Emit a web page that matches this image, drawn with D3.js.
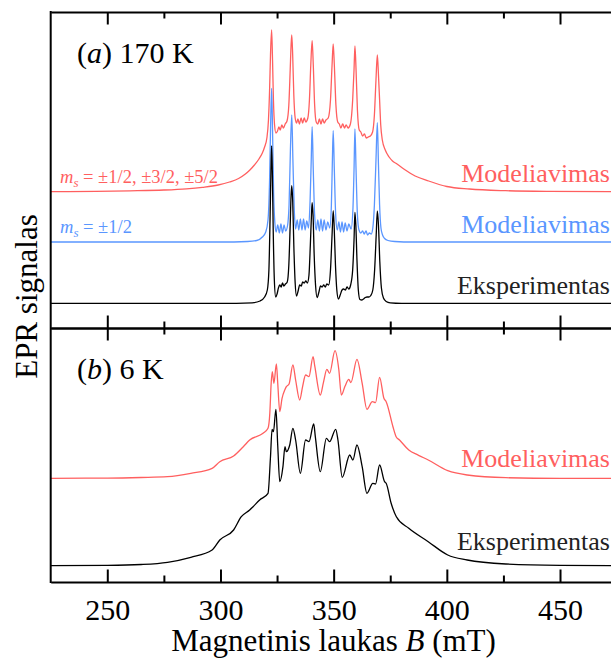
<!DOCTYPE html>
<html><head><meta charset="utf-8">
<script src="https://cdn.jsdelivr.net/npm/d3@7"></script>
<style>body{margin:0;background:#fff} svg{display:block}</style>
</head><body><svg id="c" width="611" height="664"></svg>
<script>
// ---- data: [field B (mT), signal (a.u., above own baseline)] ----
const redA = [[225,0],[245,0.4],[260,0.9],[275,1.7],[285,2.9],[292,4.4],[299,6.7],[304,9.7],[308,13.2],[311,17.7],[313,21.7],[315,26.7],[317,32.7],[318.5,38.7],[319.5,44.7],[320.5,53.7],[321.2,71.7],[321.7,101.7],[322.1,136.7],[322.6,161.7],[323.0,131.7],[323.4,91.7],[323.9,66.7],[324.5,58.7],[325.2,60.7],[325.8,64.7],[326.4,61.7],[327.1,66.7],[327.8,63.7],[328.6,67.7],[329.4,70.7],[330.2,86.7],[330.8,121.7],[331.2,146.7],[331.5,156.7],[331.9,136.7],[332.4,96.7],[333.0,73.7],[333.6,68.7],[334.2,72.7],[334.9,67.7],[335.6,73.7],[336.3,68.7],[337.0,73.7],[337.7,69.7],[338.6,73.7],[339.3,91.7],[339.9,126.7],[340.5,151],[341.0,126.7],[341.6,86.7],[342.3,69.7],[343.0,67.7],[343.7,72.7],[344.4,67.7],[345.1,72.7],[345.8,68.7],[346.6,71.7],[347.6,73.7],[348.6,91.7],[349.3,126.7],[349.8,147.7],[350.3,126.7],[351.0,86.7],[351.8,69.7],[352.5,67.7],[353.2,63.7],[354.0,67.7],[354.8,63.7],[355.5,66.7],[356.4,63.7],[357.4,67.7],[358.4,91.7],[359.0,121.7],[359.4,145.7],[359.9,121.7],[360.5,81.7],[361.3,61.7],[362.0,59.7],[362.8,55.7],[363.6,57.7],[364.4,53.7],[365.3,54.7],[366.2,55.7],[367.2,59.7],[368.0,76.7],[368.7,111.7],[369.3,136.7],[369.8,116.7],[370.3,91.7],[370.8,66.7],[371.5,51.7],[372.8,41.7],[374.5,34.7],[376,30.7],[378,27.7],[381,22.7],[386,15.7],[392,10.7],[400,5.2],[410,2.7],[426,1.0],[445,0.3],[475,0]];

const blueA = [[225,0],[300,0],[312,0.5],[316,1.5],[318.5,5],[320,10],[321,22],[321.7,62],[322.2,122],[322.6,153.7],[323.0,112],[323.5,47],[324.0,20],[324.6,10],[325.3,17],[326.0,9],[326.7,18],[327.4,9],[328.1,17],[328.8,11],[329.6,16],[330.3,37],[330.9,92],[331.5,127],[332.0,82],[332.6,32],[333.2,13],[333.9,22],[334.6,12],[335.3,23],[336.0,12],[336.7,23],[337.4,12],[338.1,21],[338.9,14],[339.6,42],[340.1,82],[340.5,115.3],[341.0,72],[341.6,27],[342.3,12],[343.0,22],[343.7,11],[344.4,23],[345.1,11],[345.8,22],[346.6,12],[347.4,20],[348.3,14],[349.0,37],[349.4,77],[349.8,111.3],[350.3,72],[350.9,27],[351.6,12],[352.3,20],[353.0,10],[353.7,20],[354.4,10],[355.1,19],[355.9,11],[356.7,18],[357.7,13],[358.5,32],[359.0,72],[359.4,113],[359.9,72],[360.5,27],[361.2,12],[362.0,9],[362.8,11],[363.5,8],[364.3,11],[365.0,7],[365.8,9],[366.6,8],[367.3,14],[368.0,37],[368.7,82],[369.3,119.3],[369.8,77],[370.3,37],[370.9,14],[371.6,7],[372.5,3.5],[374,1.5],[377,0.5],[385,0],[475,0]];

const expA = [[225,0],[300,0],[314,0.5],[317.5,2.3],[319.5,6.3],[320.7,13.3],[321.4,33.3],[321.9,83.3],[322.3,133.3],[322.6,157.3],[322.9,133.3],[323.3,73.3],[323.8,23.3],[324.4,6.3],[325.0,9.3],[325.6,15.3],[326.2,18.3],[326.8,16.3],[327.4,20.3],[328.0,17.3],[328.7,19.3],[329.5,21.3],[330.2,38.3],[330.8,78.3],[331.2,108.3],[331.5,117.6],[331.9,103.3],[332.4,58.3],[333.0,20.3],[333.6,7.3],[334.3,12.3],[335.0,18.3],[335.7,17.3],[336.3,21.3],[337.0,20.3],[337.7,22.3],[338.4,20.3],[339.1,28.3],[339.7,58.3],[340.2,88.3],[340.5,100.6],[340.9,88.3],[341.4,48.3],[342.0,18.3],[342.7,5.8],[343.5,11.3],[344.2,17.3],[344.9,16.3],[345.6,18.3],[346.3,16.3],[347.0,19.3],[347.8,18.3],[348.6,33.3],[349.3,68.3],[349.8,92.6],[350.2,78.3],[350.8,38.3],[351.4,13.3],[352.1,4.3],[352.9,8.3],[353.7,13.3],[354.4,14.3],[355.2,13.3],[355.9,16.3],[356.7,14.3],[357.5,18.3],[358.4,33.3],[359.0,63.3],[359.4,91],[359.8,78.3],[360.3,43.3],[360.9,13.3],[361.6,3.8],[362.4,3.3],[363.2,4.3],[364.0,5.8],[364.8,6.3],[365.6,6.3],[366.4,7.8],[367.3,13.3],[368.1,33.3],[368.8,68.3],[369.3,92.3],[369.8,78.3],[370.4,41.3],[371.1,15.3],[372.0,5.3],[373.2,1.8],[375,0.5],[380,0],[475,0]];

const redB = [[225,0],[250,0.2],[265,0.8],[276.6,1.6],[286.9,5],[296.3,10],[299.7,16.6],[305.8,22.3],[310.1,31.6],[312.9,38.3],[318.8,45],[321.0,50],[321.8,65],[322.4,95],[322.9,106.6],[323.6,95],[324.7,114.3],[325.3,95],[326.2,66.6],[327.2,80],[328.4,88.3],[329.1,91.6],[330.3,94.3],[332.0,113.3],[333.2,98.3],[335.0,78.3],[336.3,92],[337.6,103.3],[339.1,101.6],[340.9,121.6],[341.7,111.6],[344.1,83.3],[345.5,96],[347.0,109],[348.2,105],[350.6,127.6],[352.3,108.3],[353.4,83.3],[355.0,92],[356.7,99],[357.6,95.6],[360.3,119],[362.6,95],[364.7,69],[367.1,76.6],[368.5,75.6],[370.3,101],[372.2,80],[373.2,76.6],[376.2,51.6],[377.6,41.6],[379.1,38.3],[383.2,28.3],[387.5,23],[391.8,18.3],[400.4,7.6],[409,3.3],[426.1,0.6],[450,0],[475,0]];

const expB = [[225,0],[250,0.3],[265,1.2],[276.6,3.4],[286.9,8.4],[296.3,15.7],[299.7,25.7],[305.8,35.7],[309.2,49],[312.9,55.7],[314.4,59],[317.3,65.7],[321.0,72.4],[322.1,109],[322.8,136.4],[323.4,134],[324.5,156.4],[325.3,120],[326.2,84],[327.6,99],[328.5,119],[329.1,114],[330.6,120.7],[332.0,137.4],[333.2,125.7],[335.3,92.4],[337.6,125.7],[339.1,124],[341.2,141.7],[341.9,129],[344.1,94],[346.8,127.4],[348.2,124],[350.9,136.4],[351.9,125.7],[353.8,88.4],[357.1,110.7],[358.5,105.7],[360.3,120.7],[362.6,99],[364.7,72.4],[367.3,82.4],[368.5,81.7],[370.3,100.7],[372.5,84],[373.2,82.4],[375.4,62.4],[377.7,49],[383.2,37.4],[391.8,24],[400.4,10.7],[409,5.7],[426.1,1.7],[450,0.3],[475,0]];

// stacking offsets (a.u.)
const offsetsA = [24.7, 86, 136.3];   // experiment, ms=±1/2, all ms
const offsetsB = [16.3, 103.7];       // experiment, simulation
const majorTicks = [250, 300, 350, 400, 450];
const minorTicks = [275, 325, 375, 425];

// ---- drawing ----
const FONT = '"Liberation Serif", Tinos, "Times New Roman", "DejaVu Serif", "Noto Serif", serif';
const RED = '#ff5f5f', BLUE = '#5a96ff', BLK = '#000';
const svg = d3.select('#c');
svg.append('rect').attr('width',611).attr('height',664).attr('fill','#fff');
const x = d3.scaleLinear().domain([225,475]).range([50.7,616.6]);
const yA = d3.scaleLinear().domain([0,316]).range([328,12]);
const yB = d3.scaleLinear().domain([0,254]).range([582,328]);

function curve(data, off, y, color){
  svg.append('path').datum(data)
    .attr('fill','none').attr('stroke',color).attr('stroke-width',1.3)
    .attr('stroke-linejoin','round')
    .attr('d', d3.line().x(d=>x(d[0])).y(d=>y(d[1]+off)).curve(d3.curveMonotoneX));
}
curve(redA, offsetsA[2], yA, RED);
curve(blueA, offsetsA[1], yA, BLUE);
curve(expA, offsetsA[0], yA, BLK);
curve(redB, offsetsB[1], yB, RED);
curve(expB, offsetsB[0], yB, BLK);

function hAxis(yPos, inwardDown, labels){
  const mk = inwardDown ? d3.axisTop : d3.axisBottom;
  const g = svg.append('g').attr('transform',`translate(0,${yPos})`)
    .call(mk(x).tickValues(majorTicks).tickSizeInner(-12.5).tickSizeOuter(0)
      .tickFormat(labels ? d3.format('d') : ''));
  g.attr('font-family', FONT);
  g.select('.domain').attr('stroke-width',2);
  g.selectAll('.tick line').attr('stroke-width',2);
  if (labels) g.selectAll('text').attr('y',38).attr('dy',0)
      .attr('font-size',30).style('font-family',FONT).attr('fill','#000');
  const m = svg.append('g').attr('transform',`translate(0,${yPos})`)
    .call(mk(x).tickValues(minorTicks).tickSizeInner(-6.5).tickSizeOuter(0).tickFormat(''));
  m.select('.domain').remove();
  m.selectAll('.tick line').attr('stroke-width',2);
}
hAxis(12, true, false);
hAxis(328, false, false);
hAxis(328, true, false);
hAxis(582, false, true);
svg.append('line').attr('x1',50.7).attr('x2',50.7).attr('y1',11).attr('y2',583)
  .attr('stroke','#000').attr('stroke-width',2);

// ---- texts ----
function label(xp, yp, parts, size, color, anchor){
  const t = svg.append('text').attr('x',xp).attr('y',yp).attr('font-size',size)
    .style('font-family',FONT)
    .attr('fill',color).attr('text-anchor',anchor||'start');
  parts.forEach(p=>{
    const s = t.append('tspan').text(p.t);
    if (p.i) s.attr('font-style','italic');
    if (p.dy) s.attr('dy',p.dy);
    if (p.fs) s.attr('font-size',p.fs);
  });
  return t;
}
label(77, 63, [{t:'('},{t:'a',i:1},{t:') 170 K'}], 30, '#000');
label(77, 379, [{t:'('},{t:'b',i:1},{t:') 6 K'}], 30, '#000');

label(610, 181.7, [{t:'Modeliavimas'}], 26, RED, 'end');
label(610, 233.3, [{t:'Modeliavimas'}], 26, BLUE, 'end');
label(610, 294.3, [{t:'Eksperimentas'}], 26, '#222', 'end');
label(610, 466.7, [{t:'Modeliavimas'}], 26, RED, 'end');
label(610, 550, [{t:'Eksperimentas'}], 26, '#222', 'end');

label(60, 182.7, [{t:'m',i:1},{t:'s',i:1,dy:4,fs:13},{t:' = ±1/2, ±3/2, ±5/2',dy:-4}], 18.5, RED);
label(60, 233.3, [{t:'m',i:1},{t:'s',i:1,dy:4,fs:13},{t:' = ±1/2',dy:-4}], 18.5, BLUE);

label(333.6, 651, [{t:'Magnetinis laukas '},{t:'B',i:1},{t:' (mT)'}], 31, '#000', 'middle');
svg.append('text').attr('transform','translate(36.5,296.5) rotate(-90)')
  .style('font-family',FONT)
  .attr('text-anchor','middle').attr('font-size',31).attr('fill','#000').text('EPR signalas');
</script></body></html>
